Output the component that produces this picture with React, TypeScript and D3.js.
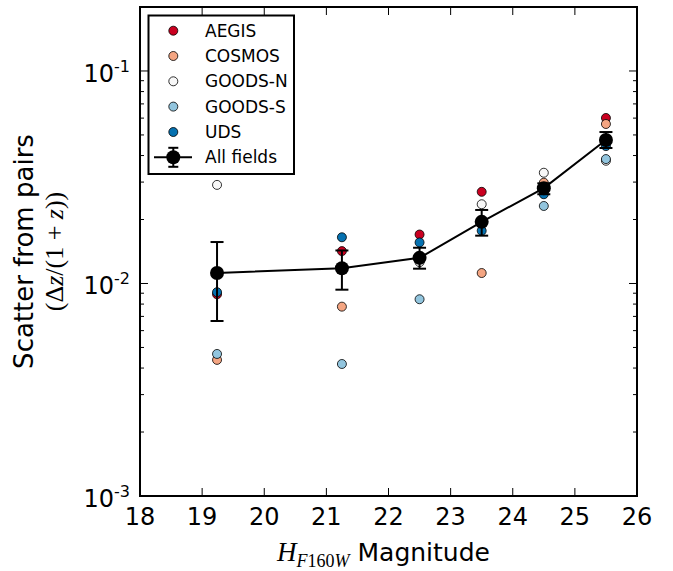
import React from "react";
import * as d3 from "d3";

const mags = [19.24, 21.25, 22.5, 23.5, 24.5, 25.5];
const aegis = [0.0089, 0.0142, 0.017, 0.027, 0.028, 0.0601];
const cosmos = [0.00437, 0.00778, 0.0131, 0.0112, 0.0298, 0.0563];
const goodsN = [0.0291, 0.0116, 0.0126, 0.0236, 0.0332, 0.0378];
const goodsS = [0.00466, 0.00418, 0.00843, 0.019, 0.02316, 0.0385];
const uds = [0.0091, 0.0165, 0.0156, 0.0177, 0.0263, 0.0443];
const allFields = [0.0112, 0.0118, 0.0132, 0.0195, 0.0281, 0.0473];
const errLo = [0.00666, 0.00935, 0.01174, 0.01679, 0.0263, 0.0434];
const errHi = [0.01567, 0.0143, 0.01473, 0.02218, 0.0296, 0.0516];

const fieldNames = ["AEGIS", "COSMOS", "GOODS-N", "GOODS-S", "UDS"];
const fieldColors = ["#ca0020", "#f4a582", "#f7f7f7", "#92c5de", "#0571b0"];
const fieldValues = [aegis, cosmos, goodsN, goodsS, uds];
const xTicks = [18, 19, 20, 21, 22, 23, 24, 25, 26];
const yMajor = [0.001, 0.01, 0.1];
const yExp = ["-3", "-2", "-1"];

const W = 673;
const H = 571;
const L = 140, R = 637, T = 7, B = 496;

export default function App() {
  const x = d3.scaleLinear().domain([18, 26]).range([L, R]);
  const y = d3.scaleLog().domain([0.001, 0.2]).range([B, T]);
  const minor: number[] = [];
  for (const dec of [0.001, 0.01, 0.1]) {
    for (let k = 2; k <= 9; k++) {
      const v = dec * k;
      if (v <= 0.2) minor.push(v);
    }
  }
  const line = d3
    .line<number>()
    .x((d, i) => x(mags[i]))
    .y((d) => y(d));
  const font = "DejaVu Sans";
  const serif = "Liberation Serif";
  const legendRows = [30.7, 56, 81.3, 106.6, 132, 157.3];
  return (
    <div style={{ position: "absolute", left: 0, top: 0 }}>
      <svg width={W} height={H} style={{ display: "block", background: "#fff" }}>
        <rect x={0} y={0} width={W} height={H} fill="#fff" />
        {xTicks.map((t) => (
          <g key={"xt" + t}>
            <line x1={x(t)} x2={x(t)} y1={B} y2={B - 8} stroke="#000" strokeWidth={1} />
            <line x1={x(t)} x2={x(t)} y1={T} y2={T + 8} stroke="#000" strokeWidth={1} />
            <text x={x(t)} y={525} textAnchor="middle" fontFamily={font} fontSize={24}>
              {t}
            </text>
          </g>
        ))}
        {yMajor.map((t, i) => (
          <g key={"ym" + t}>
            <line x1={L} x2={L + 8} y1={y(t)} y2={y(t)} stroke="#000" strokeWidth={1} />
            <line x1={R} x2={R - 8} y1={y(t)} y2={y(t)} stroke="#000" strokeWidth={1} />
            <text x={130} y={y(t) + 11} textAnchor="end" fontFamily={font} fontSize={24}>
              10
              <tspan fontSize={16} dy={-10}>
                {yExp[i]}
              </tspan>
            </text>
          </g>
        ))}
        {minor.map((t) => (
          <g key={"yn" + t}>
            <line x1={L} x2={L + 4} y1={y(t)} y2={y(t)} stroke="#000" strokeWidth={1} />
            <line x1={R} x2={R - 4} y1={y(t)} y2={y(t)} stroke="#000" strokeWidth={1} />
          </g>
        ))}
        {fieldValues.map((vals, fi) =>
          vals.map((v, i) => (
            <circle
              key={"p" + fi + "_" + i}
              cx={x(mags[i])}
              cy={y(v)}
              r={4.5}
              fill={fieldColors[fi]}
              stroke="#000"
              strokeWidth={0.8}
            />
          ))
        )}
        <path d={line(allFields) || ""} fill="none" stroke="#000" strokeWidth={2} />
        {allFields.map((v, i) => (
          <g key={"a" + i}>
            <line x1={x(mags[i])} x2={x(mags[i])} y1={y(errLo[i])} y2={y(errHi[i])} stroke="#000" strokeWidth={2} />
            <line x1={x(mags[i]) - 6.5} x2={x(mags[i]) + 6.5} y1={y(errLo[i])} y2={y(errLo[i])} stroke="#000" strokeWidth={2} />
            <line x1={x(mags[i]) - 6.5} x2={x(mags[i]) + 6.5} y1={y(errHi[i])} y2={y(errHi[i])} stroke="#000" strokeWidth={2} />
            <circle cx={x(mags[i])} cy={y(v)} r={7} fill="#000" />
          </g>
        ))}
        <rect x={L} y={T} width={R - L} height={B - T} fill="none" stroke="#000" strokeWidth={2} />
        <rect x={148.5} y={15.5} width={145.5} height={158.5} fill="#fff" stroke="#000" strokeWidth={2} />
        {fieldNames.map((n, i) => (
          <g key={"lg" + n}>
            <circle cx={173.3} cy={legendRows[i]} r={4.5} fill={fieldColors[i]} stroke="#000" strokeWidth={0.8} />
            <text x={205} y={legendRows[i] + 6} fontFamily={font} fontSize={17}>
              {n}
            </text>
          </g>
        ))}
        <g>
          <line x1={154} x2={192} y1={legendRows[5]} y2={legendRows[5]} stroke="#000" strokeWidth={2} />
          <line x1={173.3} x2={173.3} y1={legendRows[5] - 9.5} y2={legendRows[5] + 9.5} stroke="#000" strokeWidth={2} />
          <line x1={168.3} x2={178.3} y1={legendRows[5] - 9.5} y2={legendRows[5] - 9.5} stroke="#000" strokeWidth={2} />
          <line x1={168.3} x2={178.3} y1={legendRows[5] + 9.5} y2={legendRows[5] + 9.5} stroke="#000" strokeWidth={2} />
          <circle cx={173.3} cy={legendRows[5]} r={7} fill="#000" />
          <text x={205} y={legendRows[5] + 6} fontFamily={font} fontSize={17}>
            All fields
          </text>
        </g>
        <text x={(L + R) / 2 - 5} y={561} textAnchor="middle" fontFamily={font} fontSize={25}>
          <tspan fontFamily={serif} fontStyle="italic" fontSize={27}>H</tspan>
          <tspan fontFamily={serif} fontSize={18} dy={6}>
            <tspan fontStyle="italic">F</tspan>160<tspan fontStyle="italic">W</tspan>
          </tspan>
          <tspan dy={-6}> Magnitude</tspan>
        </text>
        <text transform={`translate(33, ${(T + B) / 2}) rotate(-90)`} textAnchor="middle" fontFamily={font} fontSize={26}>
          Scatter from pairs
        </text>
        <text transform={`translate(63, ${(T + B) / 2}) rotate(-90)`} textAnchor="middle" fontFamily={serif} fontSize={26}>
          (Δ<tspan fontStyle="italic">z</tspan>/(1 + <tspan fontStyle="italic">z</tspan>))
        </text>
      </svg>
    </div>
  );
}
